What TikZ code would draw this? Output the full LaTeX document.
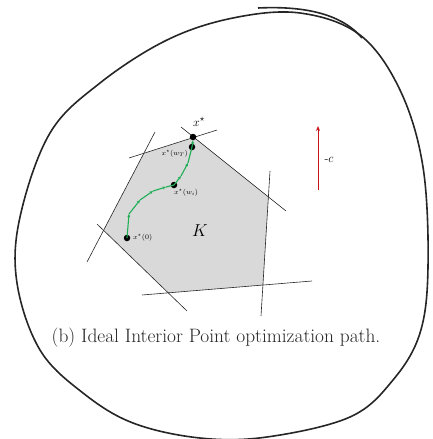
\documentclass[tikz,border=0pt]{standalone}
\usetikzlibrary{arrows.meta}
\definecolor{pathgreen}{RGB}{30,175,85}
\definecolor{arrred}{RGB}{200,20,25}
\definecolor{regiongray}{RGB}{217,217,217}
\tikzset{
  blob/.style={line width=1.6pt, black!85},
  cons/.style={line width=0.6pt, black!85},
  dotnode/.style={circle, fill=black, inner sep=0pt, minimum size=6.5pt},
  cpath/.style={pathgreen, line width=1.1pt, -{Stealth[length=3.5pt,width=3pt]}},
  smalllab/.style={font=\fontsize{7}{8}\selectfont, inner sep=1pt},
}
\begin{document}
\begin{tikzpicture}[x=1pt,y=-1pt]
\useasboundingbox (0,0) rectangle (432,439);
% outer blob
\draw[blob] plot[smooth cycle, tension=0.6] coordinates {
 (300,13) (360,35) (400,90) (423,167) (428,267) (420,333) (393,380)
 (350,417) (267,437) (200,438) (133,423) (83,393) (40,350) (17,283)
 (20,217) (50,133) (100,83) (167,40) (233,18)};
\draw[blob] (258,8) .. controls (300,6) and (340,12) .. (362,38);
% constraint lines
\coordinate (a1) at (129,158); \coordinate (a2) at (217,130);
\coordinate (b1) at (181,127); \coordinate (b2) at (286,211);
\coordinate (c1) at (270,171); \coordinate (c2) at (261,316);
\coordinate (d1) at (142,295); \coordinate (d2) at (312,281);
\coordinate (e1) at (97,224);  \coordinate (e2) at (187,311);
\coordinate (f1) at (155,132); \coordinate (f2) at (87,262);
\fill[regiongray] (intersection of a1--a2 and b1--b2) --
  (intersection of b1--b2 and c1--c2) --
  (intersection of c1--c2 and d1--d2) --
  (intersection of d1--d2 and e1--e2) --
  (intersection of e1--e2 and f1--f2) --
  (intersection of f1--f2 and a1--a2) -- cycle;
\draw[cons] (a1) -- (a2);
\draw[cons] (b1) -- (b2);
\draw[cons] (c1) -- (c2);
\draw[cons] (d1) -- (d2);
\draw[cons] (e1) -- (e2);
\draw[cons] (f1) -- (f2);
% path
\node[dotnode] (x0) at (127,238) {};
\node[dotnode] (xwi) at (174,185) {};
\node[dotnode] (xwT) at (192,147) {};
\node[dotnode] (xs) at (193,137) {};
\coordinate (p1) at (129,214);
\coordinate (p2) at (140,200);
\coordinate (p3) at (153,191);
\coordinate (p4) at (166,187);
\coordinate (p5) at (181,176);
\coordinate (p6) at (188,163);
\draw[cpath] (x0.center) -- (p1);
\draw[cpath] (p1) -- (p2);
\draw[cpath] (p2) -- (p3);
\draw[cpath] (p3) -- (p4);
\draw[pathgreen, line width=1.1pt] (p4) -- (xwi.center);
\draw[cpath] (xwi.center) -- (p5);
\draw[cpath] (p5) -- (p6);
\draw[pathgreen, line width=1.1pt] (p6) -- (xwT.center);
\draw[cpath] (xwT.center) -- (xs.south);
% labels
\node[smalllab, anchor=west] (l0) at (132,238) {$x^\star(0)$};
\node[smalllab, anchor=west] (lwi) at (173,193) {$x^\star(w_i)$};
\node[smalllab, anchor=east] (lwT) at (189,154) {$x^\star(w_T)$};
\node[font=\fontsize{13}{15}\selectfont] (lxs) at (199,122) {$x^\star$};
\node[font=\fontsize{18}{20}\selectfont] (K) at (200,231) {$K$};
% objective arrow
\coordinate (c0) at (318,190);
\coordinate (ct) at (318,126);
\draw[arrred, line width=1pt, -{Stealth[length=5pt,width=4pt]}] (c0) -- (ct);
\node[font=\fontsize{12}{14}\selectfont, anchor=west] (cl) at (321,160) {-$c$};
% caption
\node[font=\fontsize{19.4}{22}\selectfont, text=black!85] (cap) at (216,338) {(b) Ideal Interior Point optimization path.};
\end{tikzpicture}
\end{document}
